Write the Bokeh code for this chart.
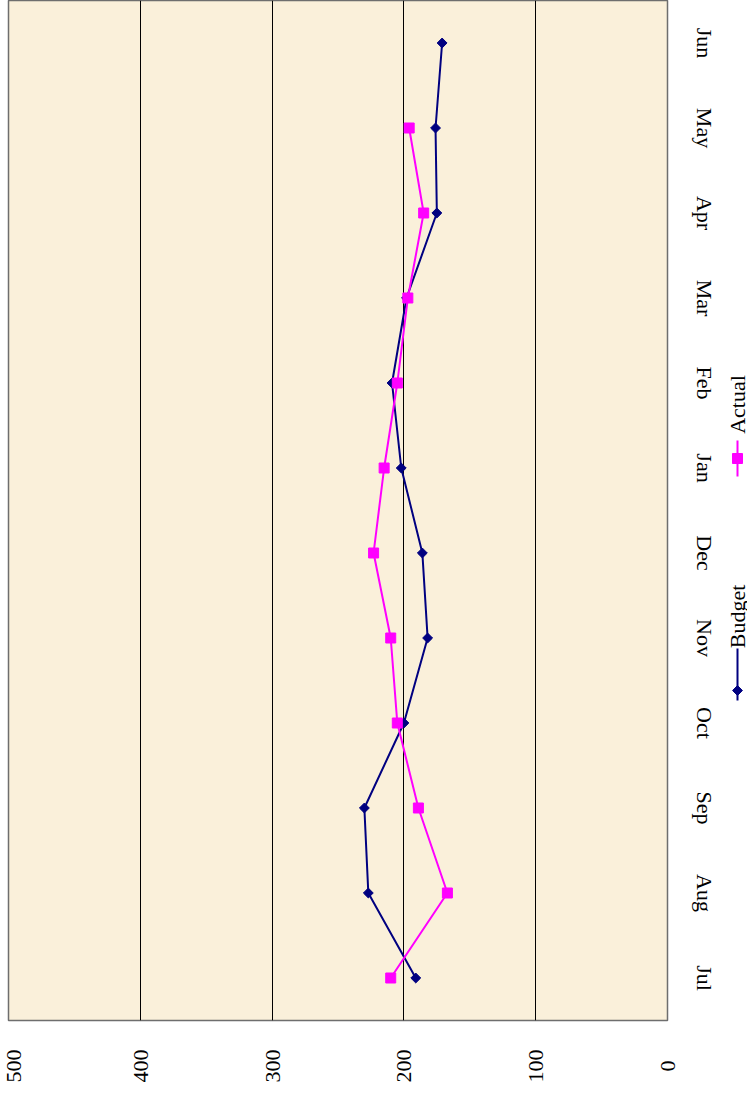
import math
from bokeh.plotting import figure
from bokeh.layouts import row
from bokeh.models import FactorRange, Range1d, FixedTicker, ColumnDataSource
from bokeh.core.properties import value
from bokeh.embed import file_html
from bokeh.resources import INLINE

months = ["Jul", "Aug", "Sep", "Oct", "Nov", "Dec", "Jan", "Feb", "Mar", "Apr", "May", "Jun"]
budget = [191, 227, 230, 200, 182, 186, 202, 209, 198, 175, 176, 171]
actual = [210, 167, 189, 205, 210, 223, 215, 205, 197, 185, 196, float("nan")]
value_ticks = [0, 100, 200, 300, 400, 500]
series_names = ["Budget", "Actual"]
series_colors = ["#000080", "#FF00FF"]

FONT = "Liberation Serif"

p = figure(frame_width=659, frame_height=1020, output_backend="svg", toolbar_location=None,
           x_range=Range1d(500, 0), y_range=FactorRange(factors=months),
           y_axis_location="right", min_border_left=8, min_border_top=0,
           min_border_right=50, min_border_bottom=64)

p.border_fill_color = "#ffffff"
p.background_fill_color = "#FAF0DA"
p.outline_line_color = "#6e6e6e"
p.outline_line_width = 1.5

p.xgrid.grid_line_color = "#000000"
p.xgrid.grid_line_width = 1
p.ygrid.grid_line_color = None

xa = p.xaxis[0]
xa.ticker = FixedTicker(ticks=value_ticks)
xa.axis_line_color = None
xa.major_tick_line_color = None
xa.minor_tick_line_color = None
xa.major_label_orientation = math.pi / 2
xa.major_label_text_font = FONT
xa.major_label_text_font_size = "22px"
xa.major_label_text_color = "#000000"
xa.major_label_standoff = 23
xa.major_label_overrides = {0: "0\u2007"}

ya = p.yaxis[0]
ya.axis_line_color = None
ya.major_tick_line_color = None
ya.minor_tick_line_color = None
ya.major_label_orientation = "vertical"
ya.major_label_text_font = FONT
ya.major_label_text_font_size = "22px"
ya.major_label_text_color = "#000000"
ya.major_label_standoff = 18

src = ColumnDataSource(dict(month=months, budget=budget, actual=actual))

p.line(x="budget", y="month", source=src, line_color=series_colors[0], line_width=2)
p.scatter(x="budget", y="month", source=src, marker="square", angle=math.pi / 4,
          size=7, fill_color=series_colors[0], line_color=series_colors[0])

p.line(x="actual", y="month", source=src, line_color=series_colors[1], line_width=2)
p.scatter(x="actual", y="month", source=src, marker="square",
          size=10, fill_color=series_colors[1], line_color=series_colors[1])

# rotated legend, drawn in a narrow side figure (y measured in pixels from the frame top)
leg = figure(frame_width=28, frame_height=1020, output_backend="svg", toolbar_location=None,
             x_range=Range1d(0, 28), y_range=Range1d(1020, 0),
             x_axis_location=None, y_axis_location=None,
             min_border_left=0, min_border_right=0, min_border_top=0, min_border_bottom=64)
leg.grid.visible = False
leg.outline_line_color = None
leg.background_fill_color = "#ffffff"
leg.border_fill_color = "#ffffff"

leg_x = [18, 18]
leg_text_y = [616, 404]
leg_mark_y = [690, 458]
leg_line_y0 = [648, 440]
leg_line_y1 = [700, 476]

leg.segment(x0=leg_x, x1=leg_x, y0=leg_line_y0, y1=leg_line_y1,
            line_color=series_colors, line_width=2)
leg.scatter(x=[leg_x[0]], y=[leg_mark_y[0]], marker="square", angle=math.pi / 4, size=7,
            fill_color=series_colors[0], line_color=series_colors[0])
leg.scatter(x=[leg_x[1]], y=[leg_mark_y[1]], marker="square", size=10,
            fill_color=series_colors[1], line_color=series_colors[1])
leg.text(x=leg_x, y=leg_text_y, text=series_names, angle=math.pi / 2,
         text_align="center", text_baseline="middle", text_color="#000000",
         text_font=value(FONT), text_font_size="22px")

layout = row(p, leg)
open("out.html", "w").write(file_html(layout, INLINE))
